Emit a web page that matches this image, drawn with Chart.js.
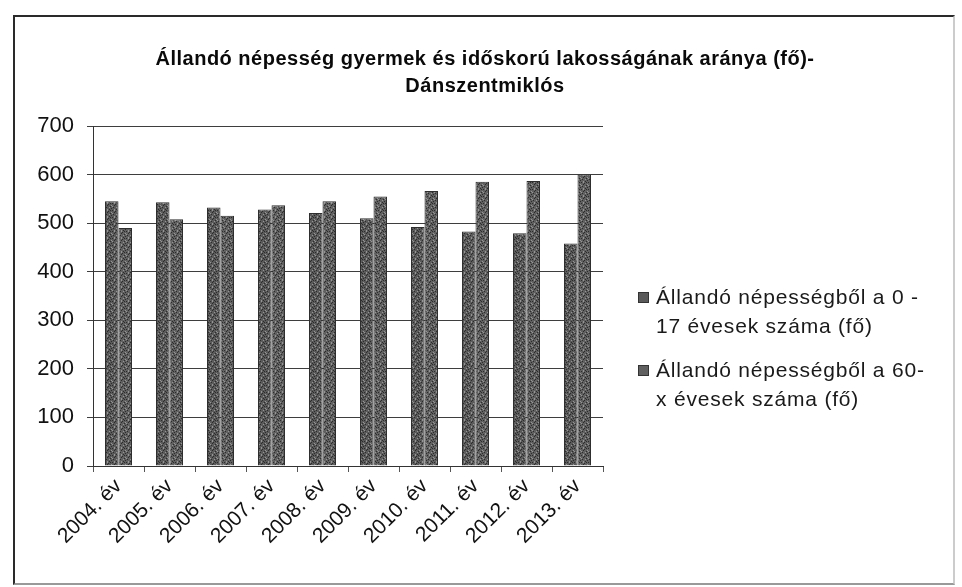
<!DOCTYPE html>
<html>
<head>
<meta charset="utf-8">
<script src="https://cdn.jsdelivr.net/npm/chart.js@4.4.1/dist/chart.umd.min.js"></script>
<style>
  html, body { margin: 0; padding: 0; background: #fff; }
  #wrap { position: relative; width: 962px; height: 587px; overflow: hidden; }
  #frame {
    position: absolute; left: 13px; top: 15px; width: 942px; height: 570px;
    border: 2px solid #2a2a2a; border-right-color: #ccc; border-bottom-color: #999;
    box-sizing: border-box;
  }
  #title {
    position: absolute; left: 0; top: 45px; width: 970px; text-align: center;
    font: bold 20px "Liberation Sans", sans-serif; letter-spacing: 0.5px;
    line-height: 27px; color: #0a0a0a;
  }
  #legend {
    position: absolute; left: 638px; top: 282px;
    font: 21px "Liberation Sans", sans-serif; letter-spacing: 0.8px; color: #1a1a1a;
  }
  .item { position: relative; padding-left: 18px; line-height: 29px; margin-bottom: 15px; }
  .box { position: absolute; left: 0; top: 10px; width: 9px; height: 9px; border: 1px solid #333; }
  canvas { position: absolute; left: 0; top: 0; }
</style>
</head>
<body>
<div id="wrap">
  <div id="frame"></div>
  <canvas id="chart" width="962" height="587"></canvas>
  <div id="title">Állandó népesség gyermek és időskorú lakosságának aránya (fő)-<br>Dánszentmiklós</div>
  <div id="legend"></div>
</div>
<script>
const years = ['2004. év', '2005. év', '2006. év', '2007. év', '2008. év',
               '2009. év', '2010. év', '2011. év', '2012. év', '2013. év'];
const children = [545, 543, 532, 528, 521, 510, 492, 483, 479, 458];
const elderly = [490, 508, 515, 537, 545, 555, 566, 585, 587, 600];
const seriesLines = [
  ['Állandó népességből a 0 -', '17 évesek száma (fő)'],
  ['Állandó népességből a 60-', 'x évesek száma (fő)']
];
const yTicks = [0, 100, 200, 300, 400, 500, 600, 700];

// speckled grey like the scanned print
function speckle(base) {
  const c = document.createElement('canvas');
  c.width = 7; c.height = 7;
  const g = c.getContext('2d');
  g.fillStyle = base;
  g.fillRect(0, 0, 7, 7);
  const dark = [[0,0],[3,1],[5,3],[1,4],[4,6],[6,5],[2,2],[5,0]];
  const light = [[2,0],[6,2],[0,3],[4,4],[2,6]];
  g.fillStyle = '#2c2c2c';
  dark.forEach(p => g.fillRect(p[0], p[1], 1, 1));
  g.fillStyle = '#959595';
  light.forEach(p => g.fillRect(p[0], p[1], 1, 1));
  return g.createPattern(c, 'repeat');
}

const fills = [speckle('#5a5a5a'), speckle('#606060')];

const ctx = document.getElementById('chart').getContext('2d');
const chart = new Chart(ctx, {
  type: 'bar',
  data: {
    labels: years,
    datasets: [
      { label: seriesLines[0].join(' '), data: children, backgroundColor: fills[0], borderColor: '#2e2e2e', borderWidth: 1 },
      { label: seriesLines[1].join(' '), data: elderly, backgroundColor: fills[1], borderColor: '#2e2e2e', borderWidth: 1 }
    ]
  },
  options: {
    responsive: false,
    animation: false,
    events: [],
    layout: { padding: { left: 20, right: 359, top: 126, bottom: 10 } },
    datasets: { bar: { categoryPercentage: 0.53, barPercentage: 1.0 } },
    plugins: { legend: { display: false }, tooltip: { enabled: false }, title: { display: false } },
    scales: {
      x: {
        afterFit: s => { s.height = 587 - 466 - 10; },
        grid: { offset: true, drawOnChartArea: false, tickLength: 6, color: '#555' },
        border: { display: true, color: '#333', width: 1 },
        ticks: { minRotation: 45, maxRotation: 45, padding: 2, color: '#111',
                 font: { family: 'Liberation Sans', size: 21 } }
      },
      y: {
        min: 0, max: 700,
        afterFit: s => { s.width = 93 - 20; },
        afterBuildTicks: s => { s.ticks = yTicks.map(v => ({ value: v })); },
        grid: { color: '#3e3e3e', lineWidth: 1, tickLength: 6 },
        border: { display: true, color: '#333', width: 1 },
        ticks: { padding: 13, color: '#111', font: { family: 'Liberation Sans', size: 22 } }
      }
    }
  }
});

// html legend built from the datasets
const legend = document.getElementById('legend');
chart.data.datasets.forEach((ds, i) => {
  const item = document.createElement('div');
  item.className = 'item';
  const box = document.createElement('span');
  box.className = 'box';
  box.style.background = i === 0 ? '#5a5a5a' : '#606060';
  item.appendChild(box);
  item.appendChild(document.createTextNode(seriesLines[i][0]));
  item.appendChild(document.createElement('br'));
  item.appendChild(document.createTextNode(seriesLines[i][1]));
  legend.appendChild(item);
});
</script>
</body>
</html>
